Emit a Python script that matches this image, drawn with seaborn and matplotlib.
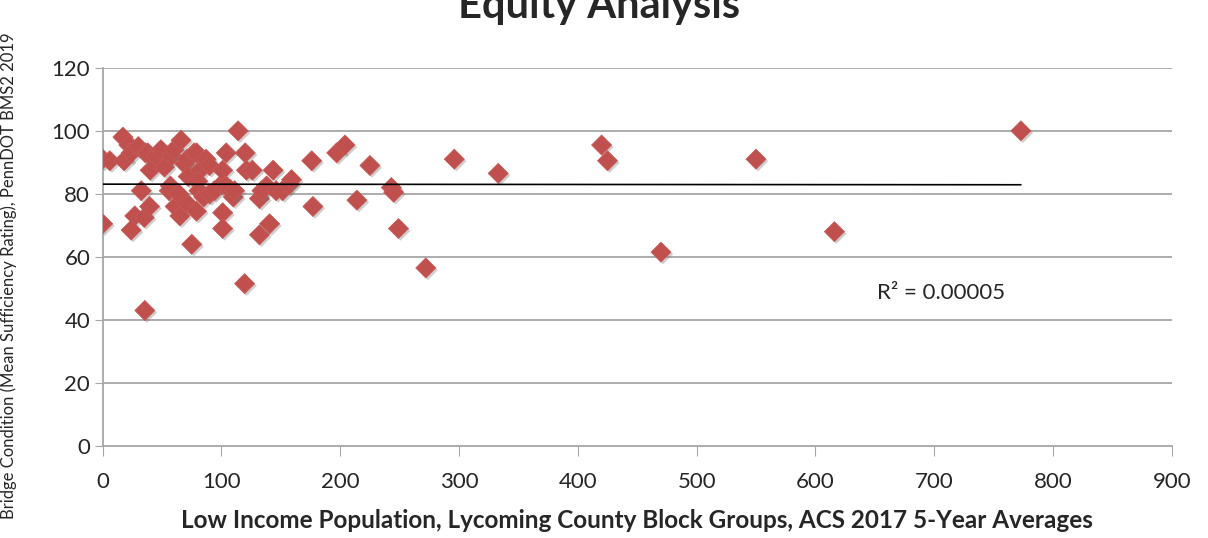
import numpy as np
import pandas as pd
import matplotlib
matplotlib.use("Agg")
import matplotlib.pyplot as plt
import matplotlib.patheffects as pe
import seaborn as sns

# low income population per block group (x) vs mean bridge sufficiency rating (y)
low_income = [0, 6, 0, 17, 18, 22, 24, 30, 36, 38, 40, 45, 49, 52, 58, 60, 66, 69, 71, 72,
              77, 79, 82, 87, 90, 35.5, 32.5, 27, 24, 35, 39.5, 57, 56, 61, 64, 65, 71, 75, 79, 80,
              81, 85, 90, 94, 101, 101, 100, 101, 104, 104, 107, 110, 111, 114, 120, 121, 126, 119.5,
              132, 132, 134, 138, 140.5, 143.5, 146, 151.5, 157, 159, 176, 177, 197, 204, 214, 225,
              243, 245, 249, 272, 296, 333, 420, 425, 470, 550, 616, 773]
sufficiency = [91, 90.5, 70.5, 98, 90.5, 95.5, 93, 95, 93, 93, 87.5, 92, 94, 88.5, 92, 94, 97, 89.5, 91, 85.5,
               93, 93, 87.5, 91, 89, 43, 81, 73, 68.5, 72.5, 76, 82.5, 81, 76, 80, 73, 77, 64, 74.5, 84,
               81, 79, 80, 81, 74, 69, 83, 87.5, 93, 82.5, 81.5, 79, 81, 100, 93, 87.5, 87.5, 51.5,
               67, 78.5, 81, 82.5, 70.5, 87.5, 81, 81, 83, 84.5, 90.5, 76, 93, 95.5, 78, 89,
               82, 80.5, 69, 56.5, 91, 86.5, 95.5, 90.5, 61.5, 91, 68, 100]
r2_label = "R² = 0.00005"

x_ticks = list(range(0, 901, 100))
y_ticks = list(range(0, 121, 20))

df = pd.DataFrame({"low_income": low_income, "bsr": sufficiency})

sns.set_style("white")
plt.rcParams["font.family"] = ["Lato", "DejaVu Sans"]

fig = plt.figure(figsize=(12.08, 5.38), dpi=100)
ax = fig.add_axes([0.085, 0.171, 0.885, 0.703])

grid_col = "#a6a6a6"
for yv in y_ticks[1:]:
    ax.axhline(yv, color=grid_col, lw=1.3, zorder=0)

pts = sns.scatterplot(data=df, x="low_income", y="bsr", marker="D", s=105,
                      color="#C0504D", edgecolor="#c85a57", linewidth=0.5, ax=ax, zorder=3)
pts.collections[0].set_path_effects([pe.withSimplePatchShadow(offset=(1.5, -1.5),
                                                               shadow_rgbFace="#777777", alpha=0.35)])

sns.regplot(data=df, x="low_income", y="bsr", scatter=False, ci=None, truncate=True,
            line_kws={"color": "black", "lw": 1.2, "zorder": 4}, ax=ax)

ax.set_xlim(0, 900)
ax.set_ylim(0, 120)
ax.set_xticks(x_ticks)
ax.set_yticks(y_ticks)
ax.tick_params(axis="x", direction="out", length=7, color=grid_col, labelsize=16, pad=12)
ax.tick_params(axis="y", direction="out", length=6, color=grid_col, labelsize=16, pad=3)
ax.xaxis.set_ticks_position("bottom")
ax.yaxis.set_ticks_position("left")

for side in ["top", "right"]:
    ax.spines[side].set_visible(False)
for side in ["left", "bottom"]:
    ax.spines[side].set_color(grid_col)
    ax.spines[side].set_linewidth(1.3)

ax.set_xlabel("Low Income Population, Lycoming County Block Groups, ACS 2017 5-Year Averages",
              fontsize=17.5, fontweight="bold", labelpad=12)
ax.set_ylabel("Bridge Condition (Mean Sufficiency Rating), PennDOT BMS2 2019", fontsize=12)
ax.yaxis.set_label_coords(-0.08, 0.45)

ax.text(652, 48.6, r2_label, fontsize=16, ha="left", va="center")

fig.text(0.496, 0.966, "Equity Analysis", fontsize=30, fontweight="bold",
         ha="center", va="baseline")

fig.savefig("out.png", dpi=100)
